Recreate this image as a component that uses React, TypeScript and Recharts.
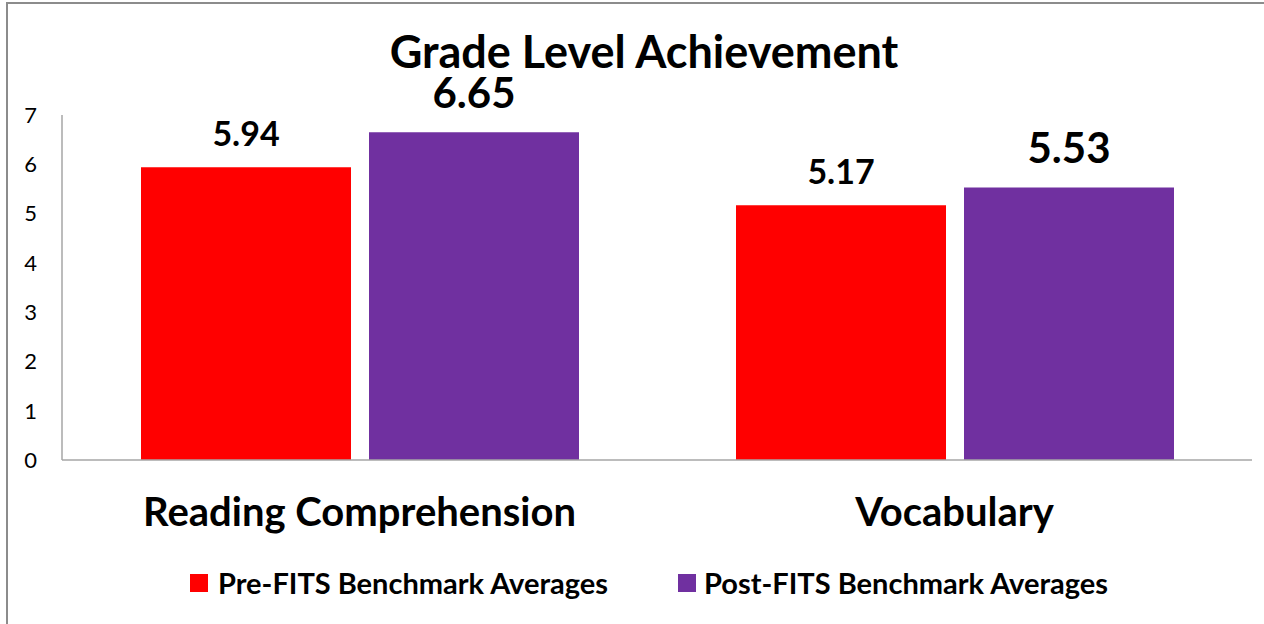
import React from 'react';
import { BarChart, Bar, XAxis, YAxis, Legend, LabelList } from 'recharts';

const categories = ['Reading Comprehension', 'Vocabulary'];
const preValues = [5.94, 5.17];
const postValues = [6.65, 5.53];
const yTicks = [0, 1, 2, 3, 4, 5, 6, 7];
const seriesNames = ['Pre-FITS Benchmark Averages', 'Post-FITS Benchmark Averages'];
const seriesColors = ['#FF0000', '#7030A0'];
const chartTitle = 'Grade Level Achievement';

const data = categories.map((name, i) => ({ name, pre: preValues[i], post: postValues[i] }));

const FONT = 'Lato, "Noto Sans", sans-serif';

const makeLabel = (fontSize: number, gap: number) => (props: any) => {
  const { x, y, width, value } = props;
  return (
    <text
      x={Number(x) + Number(width) / 2}
      y={Number(y) - gap}
      textAnchor="middle"
      fontFamily={FONT}
      fontWeight={700}
      fontSize={fontSize}
      fill="#000"
    >
      {Number(value).toFixed(2)}
    </text>
  );
};

const XTick = (props: any) => {
  const { x, y, payload } = props;
  return (
    <text x={x} y={Number(y) + 66} textAnchor="middle" fontFamily={FONT} fontWeight={700} fontSize={40} fill="#000">
      {payload.value}
    </text>
  );
};

const LegendContent = () => (
  <div
    style={{
      display: 'flex',
      justifyContent: 'center',
      alignItems: 'center',
      gap: 70,
      paddingLeft: 34,
      fontFamily: FONT,
      fontWeight: 700,
      fontSize: 29,
      lineHeight: '30px',
      height: 30,
      color: '#000',
    }}
  >
    {seriesNames.map((n, i) => (
      <div key={n} style={{ display: 'flex', alignItems: 'center' }}>
        <span style={{ display: 'inline-block', width: 18, height: 18, background: seriesColors[i], marginRight: i === 0 ? 10 : 8 }} />
        <span>{n}</span>
      </div>
    ))}
  </div>
);

export default function App() {
  return (
    <div style={{ position: 'fixed', left: 0, top: 0, width: 1264, height: 624, overflow: 'hidden', background: '#fff' }}>
      <div style={{ position: 'absolute', left: 6, top: 2, width: 1400, height: 800, border: '2px solid #8c8c8c' }} />
      <div style={{ position: 'absolute', left: 0, top: 0 }}>
        <BarChart
          width={1264}
          height={624}
          data={data}
          margin={{ top: 115, right: 12, bottom: 104, left: 22 }}
          barSize={210}
          barGap={18}
        >
          <XAxis
            dataKey="name"
            axisLine={{ stroke: '#a6a6a6', strokeWidth: 1.5 }}
            tickLine={false}
            tickSize={0}
            tickMargin={0}
            tick={<XTick />}
            interval={0}
          />
          <YAxis
            width={40}
            domain={[0, 7]}
            ticks={yTicks}
            axisLine={{ stroke: '#a6a6a6', strokeWidth: 1.5 }}
            tickLine={false}
            tickSize={0}
            tickMargin={25}
            tick={{ fontFamily: FONT, fontSize: 22, fill: '#000' }}
          />
          <Legend
            verticalAlign="bottom"
            height={30}
            content={<LegendContent />}
            wrapperStyle={{ position: 'absolute', top: 568, left: 0, width: 1264, height: 30 }}
          />
          <Bar dataKey="pre" name={seriesNames[0]} fill={seriesColors[0]} isAnimationActive={false}>
            <LabelList dataKey="pre" content={makeLabel(34, 21)} />
          </Bar>
          <Bar dataKey="post" name={seriesNames[1]} fill={seriesColors[1]} isAnimationActive={false}>
            <LabelList dataKey="post" content={makeLabel(42, 24)} />
          </Bar>
        </BarChart>
      </div>
      <svg width={1264} height={100} style={{ position: 'absolute', left: 0, top: 0, pointerEvents: 'none' }}>
        <text x={644} y={68} textAnchor="middle" fontFamily={FONT} fontWeight={700} fontSize={45} fill="#000">
          {chartTitle}
        </text>
      </svg>
    </div>
  );
}
